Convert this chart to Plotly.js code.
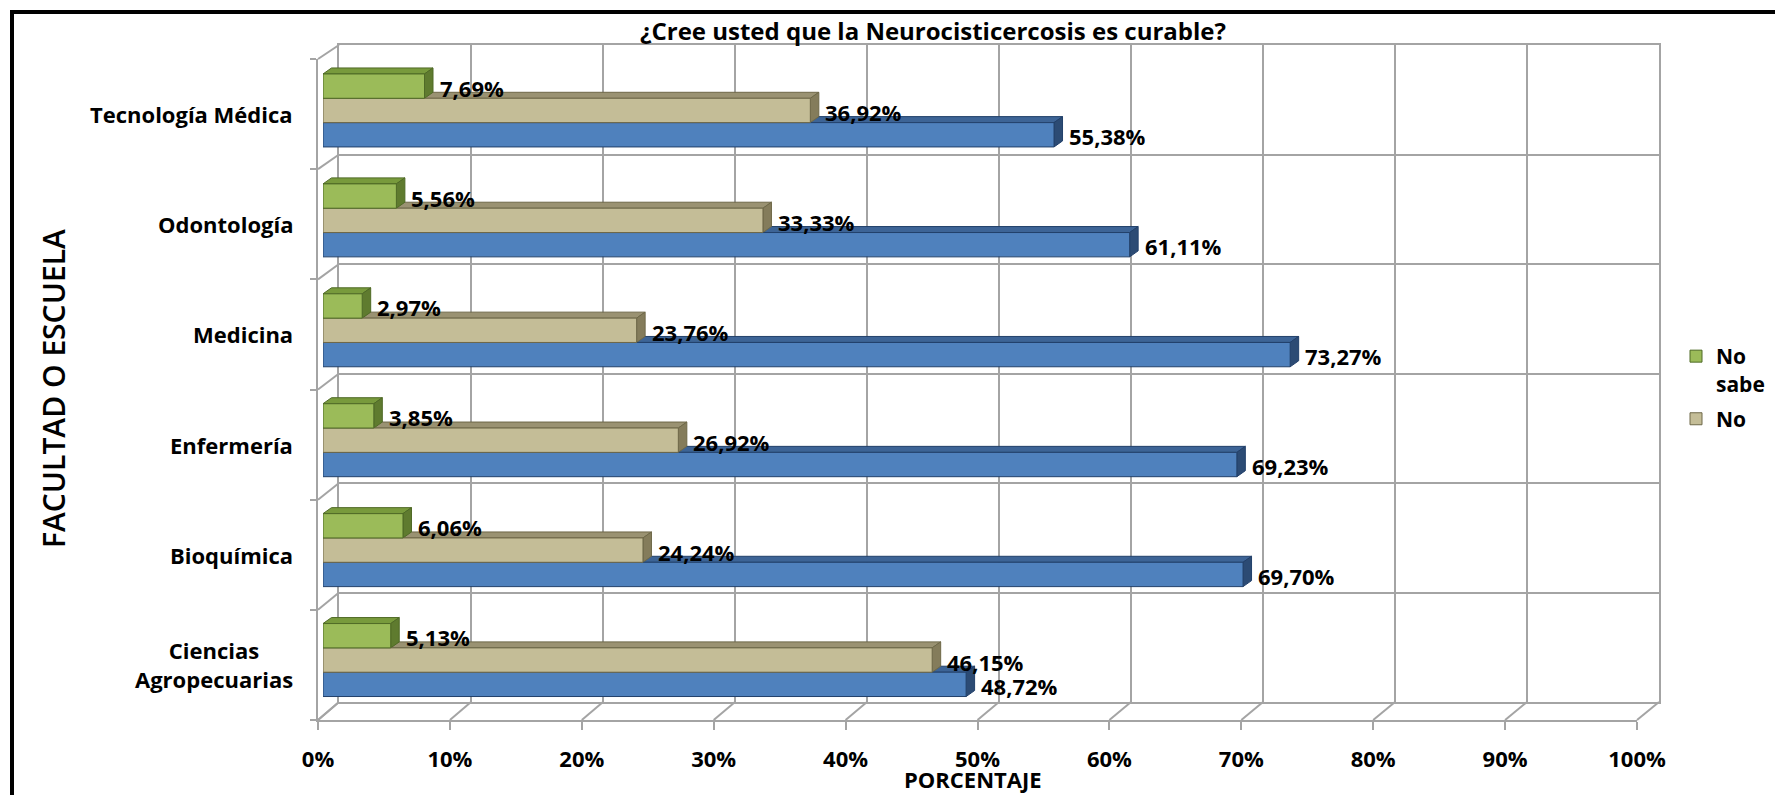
<!DOCTYPE html>
<html>
<head>
<meta charset="utf-8">
<script src="https://cdn.plot.ly/plotly-3.0.1.min.js"></script>
<style>
  html, body { margin: 0; padding: 0; background: #fff; }
  #chart { width: 1775px; height: 795px; }
</style>
</head>
<body>
<div id="chart"></div>
<script>
// Answers per faculty / school, in percent of respondents (bottom to top)
const categories = ['Ciencias Agropecuarias', 'Bioquímica', 'Enfermería', 'Medicina', 'Odontología', 'Tecnología Médica'];
const categoryLabels = ['Ciencias<br>Agropecuarias', 'Bioquímica', 'Enfermería', 'Medicina', 'Odontología', 'Tecnología Médica'];
const si = [48.72, 69.70, 69.23, 73.27, 61.11, 55.38];
const no = [46.15, 24.24, 26.92, 23.76, 33.33, 36.92];
const noSabe = [5.13, 6.06, 3.85, 2.97, 5.56, 7.69];
const xTicks = [0, 10, 20, 30, 40, 50, 60, 70, 80, 90, 100];
const xTickLabels = xTicks.map(v => v + '%');

const W = 1775, H = 795;
const px = v => v / W;
const py = v => 1 - v / H;

// Pseudo-3D box: back wall, front edges and the plane the bars sit in (pixels)
const back = { x0: 339, x1: 1659, y0: 45, y1: 702 };
const front = { x0: 318, x1: 1637, y0: 59, y1: 720 };
const barBox = { x0: 323, x1: 1643, y0: 55.5, y1: 715 };
const BARGAP = 0.336;
const DEPTH_X = 8.5, DEPTH_Y = 6;   // visible depth of each bar
const GRID = '#a4a4a4';
const FONT = 'Open Sans, Lato, sans-serif';
const labelFont = { family: FONT, size: 22, weight: 700, color: '#000' };

const series = [
  { name: 'Sí', legendName: 'Sí', values: si, fill: '#4F81BD', line: '#22406A', top: '#3D6496', side: '#2C4B74', legend: false, rank: 3 },
  { name: 'No', legendName: 'No', values: no, fill: '#C4BD97', line: '#6E6848', top: '#9A9272', side: '#847C5B', legend: true, rank: 2 },
  { name: 'No sabe', legendName: 'No<br>sabe', values: noSabe, fill: '#9BBB59', line: '#4F6A26', top: '#789A3C', side: '#5F7B2F', legend: true, rank: 1 }
];

// An empty trace keeps the back-wall subplot (x / y) alive
const traces = [{
  type: 'scatter', mode: 'markers', x: [], y: [], xaxis: 'x', yaxis: 'y',
  showlegend: false, hoverinfo: 'skip'
}];

series.forEach((s, k) => traces.push({
  type: 'bar',
  orientation: 'h',
  x: s.values,
  y: categories,
  xaxis: 'x2',
  yaxis: 'y2',
  name: s.legendName,
  legendgroup: 'g' + k,
  legendrank: s.rank,
  showlegend: s.legend,
  marker: { color: s.fill, line: { color: s.line, width: 1 } },
  hoverinfo: 'skip'
}));

const fmt = v => v.toFixed(2).replace('.', ',') + '%';

const shapes = [];
const annotations = [];

// Top and side faces of every bar, plus its value label
const pxPerUnit = (barBox.x1 - barBox.x0) / 100;
const dxU = DEPTH_X / pxPerUnit;
const bandPx = (barBox.y1 - barBox.y0) / categories.length;
const barPx = bandPx * (1 - BARGAP) / series.length;
series.forEach((s, k) => {
  const off = (k - (series.length - 1) / 2) * barPx;
  const top = off + barPx / 2, bot = off - barPx / 2;
  s.values.forEach((v, i) => {
    const common = { type: 'path', xref: 'x2', yref: 'y2', ysizemode: 'pixel', yanchor: categories[i], layer: 'below' };
    shapes.push(Object.assign({}, common, {
      path: `M0,${top} L${v},${top} L${v + dxU},${top + DEPTH_Y} L${dxU},${top + DEPTH_Y} Z`,
      fillcolor: s.top, line: { color: s.line, width: 1 }
    }));
    shapes.push(Object.assign({}, common, {
      path: `M${v},${bot} L${v},${top} L${v + dxU},${top + DEPTH_Y} L${v + dxU},${bot + DEPTH_Y} Z`,
      fillcolor: s.side, line: { color: s.line, width: 1 }
    }));
    annotations.push({
      xref: 'x2', yref: 'y2', x: v, y: categories[i],
      xanchor: 'left', yanchor: 'middle', xshift: 13, yshift: off - 1.5,
      text: fmt(v), showarrow: false, font: labelFont
    });
  });
});

// Depth edges of the floor and the left wall
const lineStyle = { color: GRID, width: 2 };
xTicks.forEach((t, k) => {
  const f = k / (xTicks.length - 1);
  shapes.push({
    type: 'line', xref: 'paper', yref: 'paper', layer: 'below',
    x0: px(front.x0 + (front.x1 - front.x0) * f), y0: py(front.y1),
    x1: px(back.x0 + (back.x1 - back.x0) * f), y1: py(back.y1),
    line: lineStyle
  });
});
for (let i = 0; i <= categories.length; i++) {
  const f = i / categories.length;
  shapes.push({
    type: 'line', xref: 'paper', yref: 'paper', layer: 'below',
    x0: px(front.x0), y0: py(front.y0 + (front.y1 - front.y0) * f),
    x1: px(back.x0), y1: py(back.y0 + (back.y1 - back.y0) * f),
    line: lineStyle
  });
}

// Frame around the chart area
shapes.push({
  type: 'rect', xref: 'paper', yref: 'paper', layer: 'above',
  x0: px(12), y0: -0.2, x1: 1.2, y1: py(12),
  line: { color: '#000', width: 4 }, fillcolor: 'rgba(0,0,0,0)'
});

// Category names, centred on each band of the front edge
categoryLabels.forEach((c, i) => {
  annotations.push({
    xref: 'paper', x: px(295), xanchor: 'right',
    yref: 'y3', y: i + 0.5, yanchor: 'middle',
    text: c, align: 'center', showarrow: false, font: labelFont
  });
});

annotations.push({
  xref: 'paper', yref: 'paper', x: px(53), y: py(389),
  xanchor: 'center', yanchor: 'middle', textangle: -90,
  text: 'FACULTAD O ESCUELA', showarrow: false,
  font: { family: FONT, size: 30, weight: 600, color: '#000' }
});
annotations.push({
  xref: 'paper', yref: 'paper', x: px(973), y: py(779),
  xanchor: 'center', yanchor: 'middle',
  text: 'PORCENTAJE', showarrow: false,
  font: { family: FONT, size: 22, weight: 700, color: '#000' }
});

const hidden = { visible: false, fixedrange: true };

const layout = {
  width: W, height: H,
  margin: { l: 0, r: 0, t: 0, b: 0, pad: 0 },
  paper_bgcolor: '#fff',
  plot_bgcolor: 'rgba(0,0,0,0)',
  barmode: 'group',
  bargap: BARGAP,
  bargroupgap: 0,
  title: {
    text: '¿Cree usted que la Neurocisticercosis es curable?',
    xref: 'paper', yref: 'paper', x: px(933), y: py(32),
    xanchor: 'center', yanchor: 'middle',
    font: { family: FONT, size: 24, weight: 700, color: '#000' }
  },
  // back wall with its grid
  xaxis: {
    domain: [px(back.x0), px(back.x1)], anchor: 'y', range: [0, 100],
    tickmode: 'linear', tick0: 0, dtick: 10, showticklabels: false, ticks: '',
    showgrid: true, gridcolor: GRID, gridwidth: 2, zeroline: false,
    showline: true, mirror: true, linecolor: GRID, linewidth: 2, fixedrange: true
  },
  yaxis: {
    domain: [py(back.y1), py(back.y0)], anchor: 'x', range: [0, 6],
    tickmode: 'linear', tick0: 0, dtick: 1, showticklabels: false, ticks: '',
    showgrid: true, gridcolor: GRID, gridwidth: 2, zeroline: false,
    showline: true, mirror: true, linecolor: GRID, linewidth: 2, fixedrange: true
  },
  // plane of the bars
  xaxis2: Object.assign({ domain: [px(barBox.x0), px(barBox.x1)], anchor: 'y2', range: [0, 100] }, hidden),
  yaxis2: Object.assign({
    domain: [py(barBox.y1), py(barBox.y0)], anchor: 'x2', type: 'category',
    categoryorder: 'array', categoryarray: categories, range: [-0.5, categories.length - 0.5]
  }, hidden),
  // front edges carrying the percentage scale
  xaxis3: {
    domain: [px(front.x0), px(front.x1)], anchor: 'y3', range: [0, 100],
    tickmode: 'array', tickvals: xTicks, ticktext: xTickLabels,
    ticks: 'outside', ticklen: 8, tickwidth: 2, tickcolor: GRID,
    ticklabelstandoff: 11,
    tickfont: labelFont, showgrid: false, zeroline: false,
    showline: true, linecolor: GRID, linewidth: 2, fixedrange: true
  },
  yaxis3: {
    domain: [py(front.y1), py(front.y0)], anchor: 'x3', range: [0, categories.length],
    tickmode: 'linear', tick0: 0, dtick: 1, showticklabels: false,
    ticks: 'outside', ticklen: 6, tickwidth: 2, tickcolor: GRID,
    showgrid: false, zeroline: false,
    showline: true, linecolor: GRID, linewidth: 2, fixedrange: true
  },
  legend: {
    x: px(1676), xanchor: 'left', y: py(336), yanchor: 'top',
    traceorder: 'grouped', tracegroupgap: 5, valign: 'top',
    bgcolor: 'rgba(0,0,0,0)', borderwidth: 0,
    font: { family: FONT, size: 21, weight: 700, color: '#000' }
  },
  shapes: shapes,
  annotations: annotations
};

Plotly.newPlot('chart', traces, layout, { staticPlot: true, displayModeBar: false });
</script>
</body>
</html>
